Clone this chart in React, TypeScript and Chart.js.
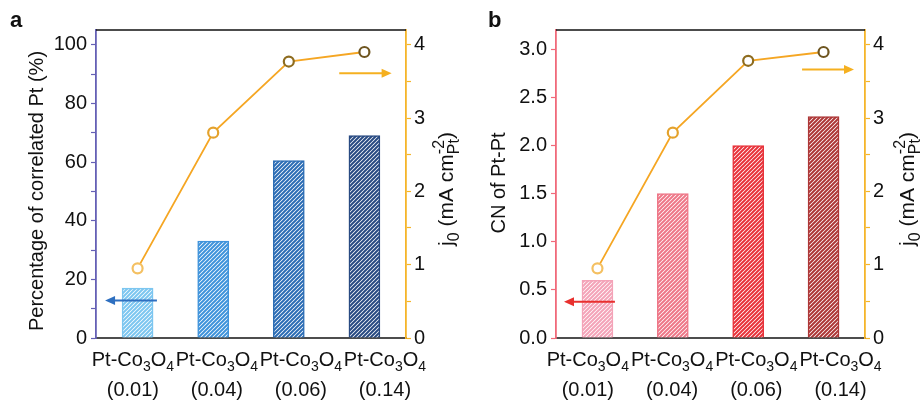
import React, { useEffect, useRef } from 'react';
import { Chart, registerables } from 'chart.js';
Chart.register(...registerables);

const FONT = '"Liberation Sans", Arial, Helvetica, sans-serif';

// ---- data ----
const sampleLoadings = ['(0.01)', '(0.04)', '(0.06)', '(0.14)'];
const correlatedPt = [17, 33, 60.5, 69];
const cnPtPt = [0.6, 1.5, 2.0, 2.3];
const j0A = [0.95, 2.8, 3.77, 3.9];
const j0B = [0.95, 2.8, 3.78, 3.9];

const blueBars = ['#7cc6f0', '#3f93db', '#2c6db5', '#284a82'];
const redBars = ['#f4a3b8', '#ee7788', '#e8323a', '#ad3636'];
const markerColors = ['#f4c062', '#e4a22c', '#8e6c1f', '#6e5520'];
const lineColor = '#f5a623';

type Seg = { t?: string; sub?: string; sup?: string };
const xLabelLine1: Seg[] = [{ t: 'Pt-Co' }, { sub: '3' }, { t: 'O' }, { sub: '4' }];
const rightTitle: Seg[] = [{ t: 'j' }, { sub: '0' }, { t: ' (mA cm' }, { sup: '-2', sub: 'Pt' }, { t: ')' }];

function segWidth(ctx: CanvasRenderingContext2D, s: Seg, size: number, ratio: number) {
  if (s.t !== undefined) {
    ctx.font = `${size}px ${FONT}`;
    return ctx.measureText(s.t).width;
  }
  ctx.font = `${Math.round(size * ratio)}px ${FONT}`;
  return Math.max(s.sub ? ctx.measureText(s.sub).width : 0, s.sup ? ctx.measureText(s.sup).width : 0);
}

function drawRich(ctx: CanvasRenderingContext2D, segs: Seg[], cx: number, baseline: number, size: number, ratio = 0.7) {
  const total = segs.reduce((a, s) => a + segWidth(ctx, s, size, ratio), 0);
  let x = cx - total / 2;
  ctx.textAlign = 'left';
  ctx.textBaseline = 'alphabetic';
  for (const s of segs) {
    const w = segWidth(ctx, s, size, ratio);
    if (s.t !== undefined) {
      ctx.font = `${size}px ${FONT}`;
      ctx.fillText(s.t, x, baseline);
    } else {
      ctx.font = `${Math.round(size * ratio)}px ${FONT}`;
      if (s.sub) ctx.fillText(s.sub, x, baseline + size * 0.27);
      if (s.sup) ctx.fillText(s.sup, x, baseline - size * 0.42);
    }
    x += w;
  }
}

function hatch(color: string) {
  const n = 4;
  const c = document.createElement('canvas');
  c.width = n;
  c.height = n;
  const g = c.getContext('2d')!;
  g.fillStyle = '#ffffff';
  g.fillRect(0, 0, n, n);
  g.strokeStyle = color;
  g.lineWidth = 2;
  g.beginPath();
  g.moveTo(-1, n + 1);
  g.lineTo(n + 1, -1);
  g.moveTo(-1, 1);
  g.lineTo(1, -1);
  g.moveTo(n - 1, n + 1);
  g.lineTo(n + 1, n - 1);
  g.stroke();
  return g.createPattern(c, 'repeat')!;
}

type Arrow = { axis: 'y' | 'y1'; y: number; from: number; to: number; color: string };

type PanelCfg = {
  panel: string;
  panelX: number;
  bars: number[];
  barColors: string[];
  line: number[];
  leftMax: number;
  leftStep: number;
  leftLabel: (v: number) => string;
  leftColor: string;
  leftTitle: string;
  leftTitleX: number;
  leftTitleY: number;
  rightTitleX: number;
  rightTitleY: number;
  plotLeft: number;
  rightWidth: number;
  labelStart: number;
  labelStep: number;
  arrows: Arrow[];
};

function PanelChart({ cfg }: { cfg: PanelCfg }) {
  const ref = useRef<HTMLCanvasElement>(null);
  useEffect(() => {
    const canvas = ref.current!;
    const overlay = {
      id: 'overlay',
      beforeDatasetsDraw(chart: any) {
        const { ctx, chartArea: a } = chart;
        ctx.save();
        ctx.strokeStyle = '#111';
        ctx.lineWidth = 1.5;
        ctx.beginPath();
        ctx.moveTo(a.left, a.top);
        ctx.lineTo(a.right, a.top);
        ctx.stroke();
        ctx.restore();
      },
      afterDraw(chart: any) {
        const { ctx, chartArea: a, scales } = chart;
        ctx.save();
        ctx.fillStyle = '#111';
        ctx.font = `bold 22px ${FONT}`;
        ctx.textAlign = 'left';
        ctx.textBaseline = 'alphabetic';
        ctx.fillText(cfg.panel, cfg.panelX, 26.5);
        sampleLoadings.forEach((lab, i) => {
          const cx = a.left + a.width * (cfg.labelStart + i * cfg.labelStep);
          drawRich(ctx, xLabelLine1, cx, 366, 20);
          ctx.font = `20px ${FONT}`;
          ctx.textAlign = 'center';
          ctx.fillText(lab, cx, 396);
        });
        ctx.save();
        ctx.translate(cfg.leftTitleX, cfg.leftTitleY);
        ctx.rotate(-Math.PI / 2);
        drawRich(ctx, [{ t: cfg.leftTitle }], 0, 0, 20);
        ctx.restore();
        ctx.save();
        ctx.translate(cfg.rightTitleX, cfg.rightTitleY);
        ctx.rotate(-Math.PI / 2);
        drawRich(ctx, rightTitle, 0, 0, 21, 0.75);
        ctx.restore();
        cfg.arrows.forEach((ar) => {
          const y = scales[ar.axis].getPixelForValue(ar.y);
          const x1 = scales.x.getPixelForValue(ar.from);
          const x2 = scales.x.getPixelForValue(ar.to);
          const dir = Math.sign(x2 - x1);
          const hl = 10;
          ctx.strokeStyle = ar.color;
          ctx.fillStyle = ar.color;
          ctx.lineWidth = 2;
          ctx.beginPath();
          ctx.moveTo(x1, y);
          ctx.lineTo(x2 - dir * hl * 0.8, y);
          ctx.stroke();
          ctx.beginPath();
          ctx.moveTo(x2, y);
          ctx.lineTo(x2 - dir * hl, y - 4.5);
          ctx.lineTo(x2 - dir * hl, y + 4.5);
          ctx.closePath();
          ctx.fill();
        });
        ctx.restore();
      },
    };

    const tickFont = { family: FONT, size: 20 };
    const chart = new Chart(canvas, {
      type: 'bar',
      data: {
        datasets: [
          {
            type: 'line',
            data: cfg.line.map((v, i) => ({ x: i, y: v })),
            yAxisID: 'y1',
            borderColor: lineColor,
            borderWidth: 1.8,
            pointRadius: 5,
            pointBorderWidth: 2.2,
            pointBackgroundColor: '#ffffff',
            pointBorderColor: markerColors,
            order: 0,
          } as any,
          {
            type: 'bar',
            data: cfg.bars.map((v, i) => ({ x: i, y: v })),
            yAxisID: 'y',
            backgroundColor: cfg.barColors.map(hatch),
            borderColor: cfg.barColors,
            borderWidth: 1.5,
            barThickness: 31,
            order: 1,
          } as any,
        ],
      },
      options: {
        animation: false,
        responsive: false,
        events: [],
        layout: { padding: { top: 30, left: 0, right: 0, bottom: 0 } },
        plugins: { legend: { display: false }, tooltip: { enabled: false } },
        scales: {
          x: {
            type: 'linear',
            min: -0.55,
            max: 3.55,
            offset: false,
            ticks: { display: false },
            grid: { display: false },
            border: { color: '#4d4d4d', width: 2 },
            afterFit: (s: any) => {
              s.height = 64;
            },
          },
          y: {
            position: 'left',
            min: 0,
            max: cfg.leftMax,
            ticks: {
              stepSize: cfg.leftStep,
              includeBounds: false,
              font: tickFont,
              color: '#111',
              padding: 4,
              callback: (v: any) => cfg.leftLabel(Number(v)),
            },
            grid: { drawOnChartArea: false, tickLength: 5, color: cfg.leftColor, tickWidth: 1.2 },
            border: { color: cfg.leftColor, width: 1.8 },
            afterFit: (s: any) => {
              s.width = cfg.plotLeft;
            },
          },
          y1: {
            position: 'right',
            min: 0,
            max: 4.2,
            ticks: {
              stepSize: 0.5,
              includeBounds: false,
              font: tickFont,
              color: '#111',
              padding: 3,
              callback: (v: any) => (Number.isInteger(Number(v)) ? String(v) : ''),
            },
            grid: { drawOnChartArea: false, tickLength: 5, color: '#f5b52a', tickWidth: 1.2 },
            border: { color: '#f5b52a', width: 1.8 },
            afterFit: (s: any) => {
              s.width = cfg.rightWidth;
            },
          },
        },
      } as any,
      plugins: [overlay],
    });
    return () => chart.destroy();
  }, [cfg]);
  return <canvas ref={ref} width={461} height={402} style={{ display: 'block' }} />;
}

const cfgA: PanelCfg = {
  panel: 'a',
  panelX: 10,
  bars: correlatedPt,
  barColors: blueBars,
  line: j0A,
  leftMax: 105,
  leftStep: 10,
  leftLabel: (v) => (v % 20 === 0 ? String(v) : ''),
  leftColor: '#6560b5',
  leftTitle: 'Percentage of correlated Pt (%)',
  leftTitleX: 43,
  leftTitleY: 191,
  rightTitleX: 453,
  rightTitleY: 189,
  plotLeft: 96,
  rightWidth: 55,
  labelStart: 0.119,
  labelStep: 0.271,
  arrows: [
    { axis: 'y', y: 12.8, from: 0.256, to: -0.43, color: '#2e6fc0' },
    { axis: 'y1', y: 3.61, from: 2.667, to: 3.36, color: '#f5b020' },
  ],
};

const cfgB: PanelCfg = {
  panel: 'b',
  panelX: 27,
  bars: cnPtPt,
  barColors: redBars,
  line: j0B,
  leftMax: 3.2,
  leftStep: 0.25,
  leftLabel: (v) => (Math.abs(v * 2 - Math.round(v * 2)) < 1e-6 ? v.toFixed(1) : ''),
  leftColor: '#f06a7a',
  leftTitle: 'CN of Pt-Pt',
  leftTitleX: 44,
  leftTitleY: 183,
  rightTitleX: 453,
  rightTitleY: 189,
  plotLeft: 95,
  rightWidth: 57,
  labelStart: 0.103,
  labelStep: 0.2726,
  arrows: [
    { axis: 'y', y: 0.376, from: 0.232, to: -0.444, color: '#e8302e' },
    { axis: 'y1', y: 3.66, from: 2.715, to: 3.404, color: '#f5b020' },
  ],
};

export default function App() {
  return (
    <div style={{ position: 'absolute', left: 0, top: 0, width: 922, height: 402, display: 'flex', background: '#fff' }}>
      <PanelChart cfg={cfgA} />
      <PanelChart cfg={cfgB} />
    </div>
  );
}
